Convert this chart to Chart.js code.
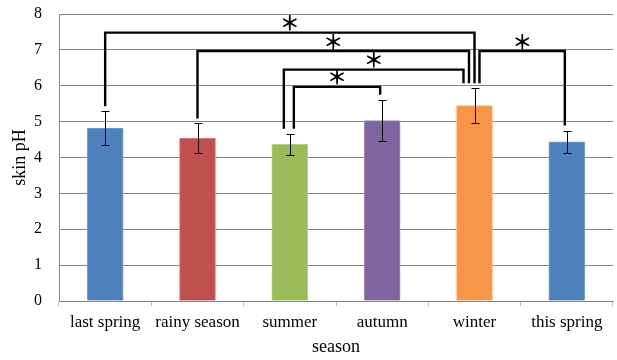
<!DOCTYPE html>
<html>
<head>
<meta charset="utf-8">
<script src="https://cdn.jsdelivr.net/npm/chart.js@4/dist/chart.umd.min.js"></script>
<style>
  html, body { margin: 0; padding: 0; background: #fff; }
  #wrap { width: 617px; height: 360px; position: relative; }
</style>
</head>
<body>
<div id="wrap"><canvas id="c" width="617" height="360"></canvas></div>
<script>
// ---- data ----
const categories = ['last spring', 'rainy season', 'summer', 'autumn', 'winter', 'this spring'];
const meanPH = [4.82, 4.54, 4.37, 5.03, 5.45, 4.44];
const sdPH = [0.47, 0.41, 0.29, 0.58, 0.48, 0.31];
const yTicks = [0, 1, 2, 3, 4, 5, 6, 7, 8];
// significance brackets (category index pairs and bracket level in pH units)
const bracketFrom = [0, 1, 2, 2, 4];
const bracketTo = [4, 4, 4, 3, 5];
const bracketLevel = [7.48, 6.97, 6.45, 5.97, 6.97];
const bracketMark = ['＊', '＊', '＊', '＊', '＊'];

const barColors = ['#4F81BD', '#C0504D', '#9BBB59', '#8064A2', '#F79646', '#4F81BD'];
const barBorders = ['#7DA2CF', '#D58583', '#B7CF8A', '#A28CBE', '#F9B37E', '#7DA2CF'];
const FONT = "'Liberation Serif', 'Times New Roman', serif";

const errorBarPlugin = {
  id: 'errorBars',
  afterDatasetsDraw(chart) {
    const ctx = chart.ctx;
    const meta = chart.getDatasetMeta(0);
    const y = chart.scales.y;
    ctx.save();
    ctx.strokeStyle = '#000';
    ctx.lineWidth = 1;
    meta.data.forEach((bar, i) => {
      const x = Math.round(bar.x) + 0.5;
      const yt = Math.round(y.getPixelForValue(meanPH[i] + sdPH[i])) + 0.5;
      const yb = Math.round(y.getPixelForValue(meanPH[i] - sdPH[i])) + 0.5;
      ctx.beginPath();
      ctx.moveTo(x, yt); ctx.lineTo(x, yb);
      ctx.moveTo(x - 4, yt); ctx.lineTo(x + 4, yt);
      ctx.moveTo(x - 4, yb); ctx.lineTo(x + 4, yb);
      ctx.stroke();
    });
    ctx.restore();
  }
};

const bracketPlugin = {
  id: 'brackets',
  afterDatasetsDraw(chart, args, opts) {
    const ctx = chart.ctx;
    const meta = chart.getDatasetMeta(0);
    const y = chart.scales.y;
    const shifts = opts.legShift;
    ctx.save();
    ctx.strokeStyle = '#000';
    ctx.lineWidth = 2.4;
    ctx.lineJoin = 'miter';
    ctx.fillStyle = '#000';
    ctx.font = "bold 20px 'Noto Sans CJK JP', sans-serif";
    ctx.textAlign = 'center';
    ctx.textBaseline = 'middle';
    for (let k = 0; k < bracketFrom.length; k++) {
      const a = bracketFrom[k], b = bracketTo[k];
      const xa = meta.data[a].x + shifts[k][0];
      const xb = meta.data[b].x + shifts[k][1];
      const yl = y.getPixelForValue(bracketLevel[k]);
      const ya = y.getPixelForValue(meanPH[a] + sdPH[a]) - opts.gap;
      const yb = y.getPixelForValue(meanPH[b] + sdPH[b]) - opts.gap;
      ctx.beginPath();
      ctx.moveTo(xa, ya);
      ctx.lineTo(xa, yl);
      ctx.lineTo(xb, yl);
      ctx.lineTo(xb, yb);
      ctx.stroke();
      ctx.fillText(bracketMark[k], (xa + xb) / 2, yl - 9);
    }
    ctx.restore();
  }
};

new Chart(document.getElementById('c'), {
  type: 'bar',
  data: {
    labels: categories,
    datasets: [{
      data: meanPH,
      backgroundColor: barColors,
      borderColor: barBorders,
      borderWidth: 1,
      barThickness: 36
    }]
  },
  options: {
    responsive: false,
    animation: false,
    devicePixelRatio: 1,
    layout: { padding: { left: 0, right: 4, top: 14, bottom: 0 } },
    plugins: {
      legend: { display: false },
      tooltip: { enabled: false },
      brackets: {
        gap: 5,
        legShift: [[0, 0], [0, -5.5], [-6, -11], [4, -2], [5, -2]]
      }
    },
    scales: {
      x: {
        afterFit(s) { s.height = 59; },
        grid: {
          offset: true,
          drawOnChartArea: false,
          drawTicks: true,
          tickLength: 5,
          color: '#BDBDBD'
        },
        border: { display: true, color: '#868686', width: 1 },
        ticks: {
          color: '#000',
          font: { family: FONT, size: 17 },
          padding: 6,
          maxRotation: 0,
          autoSkip: false
        },
        title: {
          display: true,
          text: 'season',
          color: '#000',
          font: { family: FONT, size: 18 },
          padding: { top: 0, bottom: 2 }
        }
      },
      y: {
        min: 0,
        max: 8,
        afterFit(s) { s.width = 59; },
        afterBuildTicks(s) { s.ticks = yTicks.map(v => ({ value: v })); },
        grid: {
          color: '#868686',
          lineWidth: 1,
          drawTicks: true,
          tickLength: 17,
          tickColor: 'rgba(0,0,0,0)'
        },
        border: { display: true, color: '#868686', width: 1 },
        ticks: {
          color: '#000',
          font: { family: FONT, size: 16 },
          padding: 0
        },
        title: {
          display: true,
          text: 'skin pH',
          color: '#000',
          font: { family: FONT, size: 18 },
          padding: { top: 9, bottom: 0 }
        }
      }
    }
  },
  plugins: [errorBarPlugin, bracketPlugin]
});
</script>
</body>
</html>
